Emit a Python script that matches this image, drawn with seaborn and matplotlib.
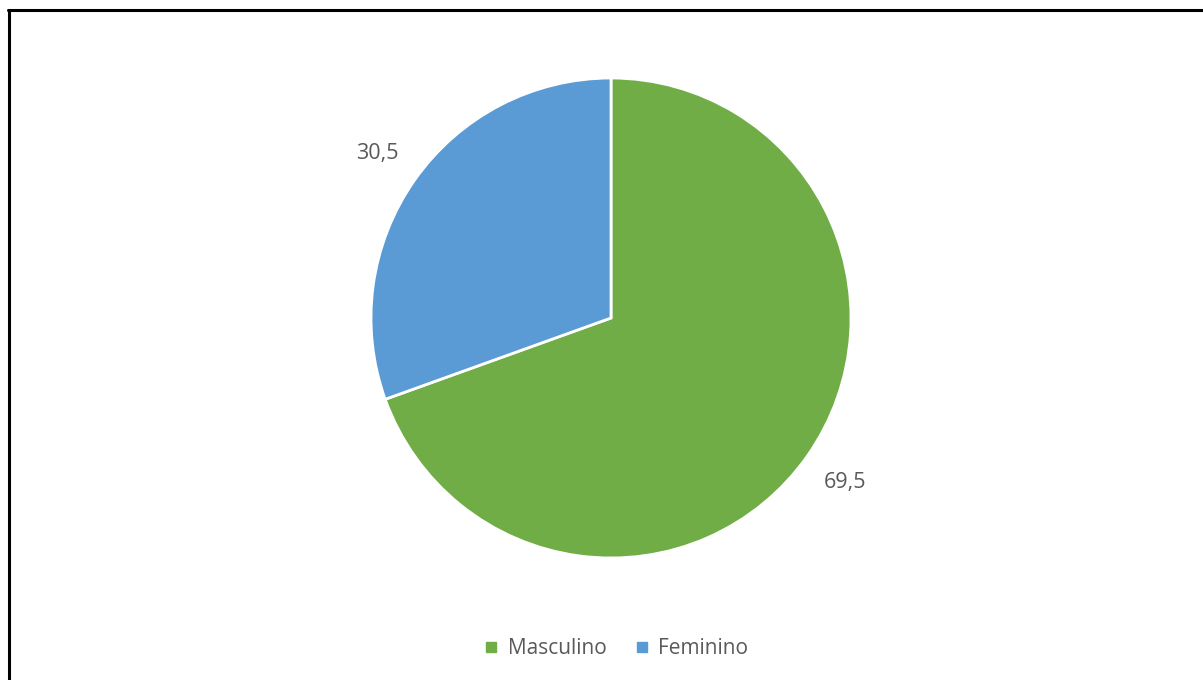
import matplotlib
matplotlib.use("Agg")
import matplotlib.pyplot as plt
from matplotlib.lines import Line2D
import seaborn as sns

categories = ["Masculino", "Feminino"]
values = [69.5, 30.5]
colors = ["#70AD47", "#5B9BD5"]

sns.set_theme(style="white")
plt.rcParams["font.family"] = ["Open Sans", "DejaVu Sans"]

W, H = 1203, 680
fig = plt.figure(figsize=(W / 100, H / 100), dpi=100)
fig.patch.set_facecolor("white")

# pie area: 480 px square centred at (611, 318)
cx, cy, r = 611, 318, 240
ax = fig.add_axes([(cx - r) / W, (H - cy - r) / H, 2 * r / W, 2 * r / H])

total = sum(values)
ax.pie(
    values,
    colors=colors,
    startangle=90,
    counterclock=False,
    autopct=lambda p: f"{p * total / 100:.1f}".replace(".", ","),
    pctdistance=1.19,
    wedgeprops=dict(edgecolor="white", linewidth=2),
    textprops=dict(color="#595959", fontsize=15.5),
)
ax.set_xlim(-1, 1)
ax.set_ylim(-1, 1)
ax.axis("off")

handles = [
    Line2D([], [], marker="s", linestyle="none", markersize=6.5,
           markerfacecolor=c, markeredgecolor=c)
    for c in colors
]
fig.legend(handles, categories, loc="center", bbox_to_anchor=(615.5 / W, 1 - 649 / H),
           ncol=2, frameon=False, fontsize=15, labelcolor="#595959",
           handletextpad=0.4, columnspacing=1.3, handlelength=0.8)

# frame edges along the top and left
fig.add_artist(Line2D([8 / W, 1], [1 - 10 / H, 1 - 10 / H], color="black", linewidth=2.2,
                      transform=fig.transFigure))
fig.add_artist(Line2D([9 / W, 9 / W], [0, 1 - 10 / H], color="black", linewidth=2.2,
                      transform=fig.transFigure))

fig.savefig("out.png", dpi=100)
